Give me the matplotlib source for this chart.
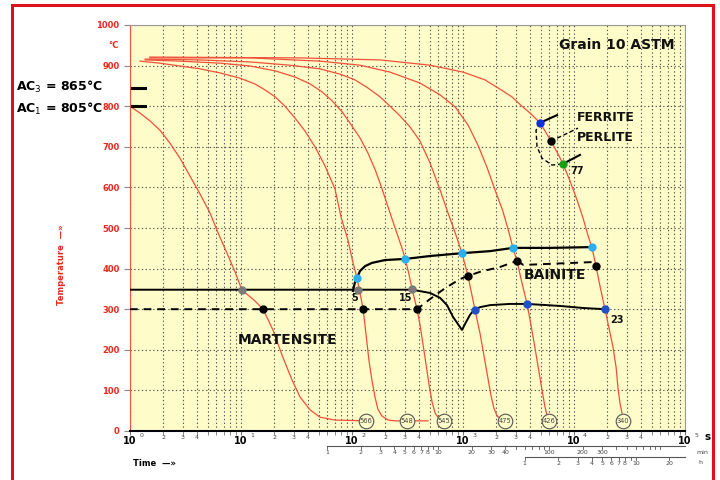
import matplotlib
matplotlib.use('Agg')
import matplotlib.pyplot as plt
from matplotlib.patches import Rectangle

# cooling curves (time in s, temperature in degC)
c566_t = [1.0, 1.23, 1.51, 1.86, 2.29, 2.82, 3.47, 4.27, 5.26, 6.21, 7.48, 8.83, 10.2, 11.3, 13.4,
          15.8, 19.4, 23.4, 28.8, 34, 41.9, 51.5, 70.3, 134]
c566_T = [800, 783, 764, 741, 709, 672, 628, 584, 537, 488, 438, 392, 347, 337, 320,
          300, 249, 187, 126, 84, 52, 34, 27, 25]

c548_t = [1.23, 1.86, 2.82, 4.27, 6.47, 9.79, 13.3, 16.5, 20.3, 24.9, 30.6, 37.7, 46.4, 57.1,
          70.3, 80.0, 92, 101.7, 111, 118, 126, 134, 142, 151, 161, 171, 186, 211, 244, 484]
c548_T = [911, 906, 899, 892, 882, 869, 855, 840, 823, 800, 771, 739, 700, 653,
          596, 525, 470, 416, 377, 340, 300, 236, 175, 126, 84, 54, 37, 27, 25, 25]

c545_t = [1.37, 2.82, 6.47, 12.1, 20.3, 30.6, 41.9, 53.9, 66.3, 81.6, 100, 118, 139, 162, 183,
          207, 233, 259, 288, 300, 321, 348, 385, 410, 437, 465, 495, 527, 561, 610, 675]
c545_T = [914, 911, 906, 899, 887, 872, 855, 835, 813, 786, 751, 722, 685, 643, 603,
          559, 517, 480, 443, 426, 394, 350, 300, 261, 212, 163, 113, 71, 44, 30, 25]

c475_t = [1.37, 4.27, 12.1, 27.6, 51.5, 78.0, 106, 139, 179, 220, 271, 333, 410, 505, 621, 733,
          851, 979, 1109, 1283, 1422, 1542, 1675, 1782, 1895, 2014, 2155, 2390]
c475_T = [916, 914, 909, 901, 892, 879, 865, 845, 823, 800, 776, 749, 714, 660, 594, 537,
          488, 438, 382, 298, 241, 187, 131, 89, 57, 39, 30, 25]

c426_t = [1.51, 12.1, 51.5, 118, 220, 410, 621, 851, 1109, 1364, 1652, 1941, 2270, 2560, 2818,
          3063, 3396, 3774, 4100, 4455, 4840, 5150, 5480, 5710, 5950]
c426_T = [919, 919, 911, 901, 884, 857, 828, 798, 754, 704, 648, 594, 544, 495, 451,
          419, 365, 313, 261, 204, 145, 101, 59, 39, 25]

c340_t = [1.51, 34, 179, 505, 1000, 1572, 2155, 2760, 3396, 4100, 4939, 5570, 6207, 7030, 7962,
          9200, 10650, 12050, 13250, 14530, 15780, 17140, 19010, 20650, 22450, 24000, 24900,
          25950, 27050]
c340_T = [921, 919, 914, 901, 884, 865, 842, 823, 800, 781, 759, 736, 714, 687, 658,
          616, 569, 525, 485, 451, 406, 357, 300, 254, 207, 155, 106, 69, 44]

curves_t = [c566_t, c548_t, c545_t, c475_t, c426_t, c340_t]
curves_T = [c566_T, c548_T, c545_T, c475_T, c426_T, c340_T]

# hardness circles at the end of each curve
hv_labels = ['566', '548', '545', '475', '426', '340']
hv_t = [134, 313, 675, 2390, 5950, 27620]
hv_T = [25, 25, 25, 25, 25, 25]

# transformation lines
ms_t = [1, 348, 505, 621, 718, 813, 979, 1064, 1156, 1256, 1422, 1750, 2650, 3774, 7480, 12050, 19010]
ms_T = [348, 348, 340, 328, 310, 281, 249, 268, 286, 298, 305, 310, 313, 313, 308, 303, 300]

m50_t = [1, 385, 505, 692, 938, 1109, 1422, 2155, 3063]
m50_T = [300, 300, 325, 352, 374, 382, 392, 404, 419]
bf_t = [3063, 3500, 14500, 15780]
bf_T = [419, 409, 416, 406]

bs_t = [102, 106, 111, 118, 131, 151, 198, 306, 505, 979, 1750, 2818, 6080, 14530]
bs_T = [345, 365, 377, 394, 406, 414, 421, 424, 431, 438, 443, 451, 451, 453]

# ferrite / perlite nose
fp_t = [4939, 4550, 4645, 5150, 6340, 7962]
fp_T = [759, 741, 700, 672, 655, 658]

grey_t = [10.2, 113, 348]
grey_T = [348, 347, 350]
black_t = [15.8, 126, 385, 1109, 3063, 15780]
black_T = [300, 300, 300, 382, 419, 406]
cyan_t = [111, 300, 979, 2818, 14530]
cyan_T = [377, 424, 438, 451, 453]
blue_t = [1283, 3774, 19010]
blue_T = [298, 313, 300]

min_ticks = [1, 2, 3, 4, 5, 6, 7, 8, 9, 10, 20, 30, 40, 50, 60, 70, 80, 90,
             100, 200, 300, 400, 500, 600, 700, 800, 900, 1000]
min_labels = [1, 2, 3, 4, 5, 6, 7, 8, 10, 20, 30, 40, 100, 200, 300]
h_ticks = [1, 2, 3, 4, 5, 6, 7, 8, 9, 10, 20]
h_labels = [1, 2, 3, 4, 5, 6, 7, 8, 10, 20]

BG = '#fefcc8'
RED = '#f0503c'
TXT_RED = '#e8281e'

fig = plt.figure(figsize=(7.2, 4.8), dpi=100)
ax = fig.add_axes([130 / 720, 1 - 431 / 480, 555 / 720, 406 / 480])
ax.set_facecolor(BG)
ax.set_xscale('log')
ax.set_xlim(1, 1e5)
ax.set_ylim(0, 1000)

# grid
dot = (0, (1.2, 2.2))
ax.set_yticks(range(0, 1001, 100))
ax.grid(True, which='both', axis='x', color='#555555', ls=dot, lw=0.8)
ax.grid(True, which='major', axis='y', color='#555555', ls=dot, lw=0.8)
ax.set_axisbelow(True)
ax.tick_params(axis='x', which='both', labelbottom=False, length=3, color='#777777')
ax.tick_params(axis='y', length=4, color='#888888', labelsize=6, labelcolor=TXT_RED)
for lab in ax.get_yticklabels():
    lab.set_fontweight('bold')
ax.spines['left'].set_color(RED)
ax.spines['bottom'].set_color('black')
ax.spines['bottom'].set_linewidth(1.5)
ax.spines['top'].set_color('#999999')
ax.spines['right'].set_color('#999999')

for t, T in zip(curves_t, curves_T):
    ax.plot(t, T, color=RED, lw=0.9, zorder=3)

for lab, t, T in zip(hv_labels, hv_t, hv_T):
    ax.plot(t, T, 'o', ms=10.5, mfc=BG, mec='#555555', mew=0.8, zorder=4)
    ax.text(t, T, lab, fontsize=4.8, color='#444444', ha='center', va='center', zorder=5)

ax.plot(ms_t, ms_T, color='black', lw=1.4, zorder=5)
ax.plot(m50_t, m50_T, color='black', lw=1.4, ls=(0, (4, 3)), zorder=5)
ax.plot(bf_t, bf_T, color='black', lw=1.4, ls=(0, (4, 3)), zorder=5)
ax.plot(bs_t, bs_T, color='black', lw=1.6, zorder=5)
ax.plot(fp_t, fp_T, color='black', lw=1.0, ls=(0, (3, 2)), zorder=5)
ax.plot([4939, 7030], [759, 778], color='black', lw=1.5, zorder=5)
ax.plot([7962, 11320], [658, 680], color='black', lw=1.5, zorder=5)
ax.plot([6207, 10860], [714, 746], color='black', lw=1.0, ls=(0, (3, 2)), zorder=5)

ax.plot(grey_t, grey_T, 'o', ms=5, color='#7a7a7a', zorder=6)
ax.plot(black_t, black_T, 'o', ms=5, color='black', zorder=6)
ax.plot(cyan_t, cyan_T, 'o', ms=5, color='#2ab0ee', zorder=6)
ax.plot(blue_t, blue_T, 'o', ms=5, color='#2050c8', zorder=6)
ax.plot([4939], [759], 'o', ms=5, color='#1030d8', zorder=6)
ax.plot([6207], [714], 'o', ms=5, color='black', zorder=6)
ax.plot([7962], [658], 'o', ms=5, color='#18a018', zorder=6)

# AC marks
ax.plot([1.04, 1.37], [844, 844], color='black', lw=2.2, zorder=6)
ax.plot([1.04, 1.37], [800, 800], color='black', lw=2.2, zorder=6)

bold = dict(fontweight='bold', color='#111111')
ax.text(9.4, 224, 'MARTENSITE', fontsize=10, va='center', **bold)
ax.text(6740, 384, 'BAINITE', fontsize=10, ha='center', va='center', **bold)
ax.text(10650, 773, 'FERRITE', fontsize=9, va='center', **bold)
ax.text(10650, 724, 'PERLITE', fontsize=9, va='center', **bold)
ax.text(81000, 950, 'Grain 10 ASTM', fontsize=10, ha='right', va='center', **bold)
ax.text(106, 327, '5', fontsize=7, ha='center', va='center', **bold)
ax.text(306, 327, '15', fontsize=7, ha='center', va='center', **bold)
ax.text(24500, 273, '23', fontsize=7, ha='center', va='center', **bold)
ax.text(10650, 640, '77', fontsize=7, ha='center', va='center', **bold)

# x axis labels (decades + minor)
tr = ax.get_xaxis_transform()
for d in range(6):
    ax.annotate('10', (10.0 ** d, -0.024), xycoords=tr, ha='center', va='center',
                fontsize=7, fontweight='bold', annotation_clip=False)
    ax.annotate(str(d), (10.0 ** d, -0.024), xycoords=tr, xytext=(8, 4),
                textcoords='offset points', ha='center', va='center',
                fontsize=4.5, color='#444444', annotation_clip=False)
    if d < 5:
        for m in (2, 3, 4):
            ax.text(m * 10.0 ** d, -0.015, str(m), transform=tr, ha='center', va='center',
                    fontsize=4.5, color='#444444', clip_on=False)

# minutes and hours scales
y_min = -0.037
ax.plot([60, 1e5], [y_min, y_min], color='#555555', lw=0.8, transform=tr, clip_on=False)
for v in min_ticks:
    ax.plot([v * 60, v * 60], [y_min, y_min - 0.007], color='#555555', lw=0.6,
            transform=tr, clip_on=False)
for v in min_labels:
    ax.text(v * 60, y_min - 0.016, str(v), transform=tr, ha='center', va='center',
            fontsize=4.5, color='#444444', clip_on=False)
y_h = -0.064
ax.plot([3600, 1e5], [y_h, y_h], color='#555555', lw=0.8, transform=tr, clip_on=False)
for v in h_ticks:
    ax.plot([v * 3600, v * 3600], [y_h, y_h - 0.007], color='#555555', lw=0.6,
            transform=tr, clip_on=False)
for v in h_labels:
    ax.text(v * 3600, y_h - 0.016, str(v), transform=tr, ha='center', va='center',
            fontsize=4.5, color='#444444', clip_on=False)

fig.text(708 / 720, 1 - 437 / 480, 's', fontsize=7.5, fontweight='bold', ha='center', va='center')
fig.text(702 / 720, 1 - 453 / 480, 'min', fontsize=4.5, color='#444444', ha='center', va='center')
fig.text(700 / 720, 1 - 463 / 480, 'h', fontsize=4.5, color='#444444', ha='center', va='center')
fig.text(133 / 720, 1 - 463 / 480, 'Time  —»', fontsize=6, fontweight='bold', va='center')
fig.text(113 / 720, 1 - 46 / 480, '°C', fontsize=6, fontweight='bold', color=TXT_RED,
         ha='center', va='center')
fig.text(61 / 720, 1 - 265 / 480, 'Temperature  —»', fontsize=6, fontweight='bold',
         color=TXT_RED, rotation=90, ha='center', va='center')
fig.text(16 / 720, 1 - 87 / 480, 'AC$_3$ = 865°C', fontsize=9, fontweight='bold', va='center')
fig.text(16 / 720, 1 - 109 / 480, 'AC$_1$ = 805°C', fontsize=9, fontweight='bold', va='center')

fig.patches.append(Rectangle((12 / 720, -0.02), 701 / 720, 1.02 - 5 / 480,
                             transform=fig.transFigure, fill=False, ec='#e0101a', lw=2.2))

fig.savefig('out.png', dpi=100)
